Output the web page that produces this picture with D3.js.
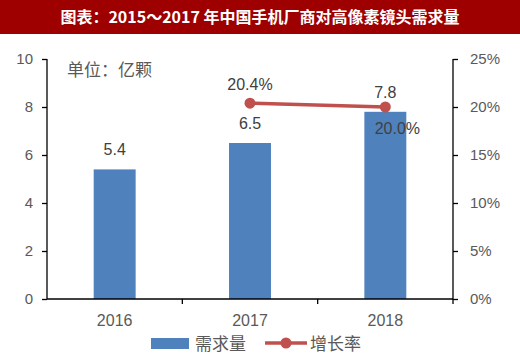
<!DOCTYPE html>
<html><head><meta charset="utf-8">
<script src="https://cdn.jsdelivr.net/npm/d3@7"></script>
<style>body{margin:0;background:#fff}svg{display:block}</style>
</head><body>
<svg id="c" width="520" height="364"></svg>
<script>
const categories = ["2016", "2017", "2018"];
const demand = [5.4, 6.5, 7.8];
const growth = [null, 0.204, 0.200];
const growthLabels = [null, "20.4%", "20.0%"];
const leftTicks = [0, 2, 4, 6, 8, 10];
const rightTicks = [0, 0.05, 0.10, 0.15, 0.20, 0.25];
const title = "图表：2015～2017 年中国手机厂商对高像素镜头需求量";
const unitLabel = "单位：亿颗";
const legendNames = ["需求量", "增长率"];

const svg = d3.select("#c");
const font = "'Liberation Sans', Arial, sans-serif";
const cjk = "'Noto Sans CJK SC', sans-serif";
const gray = "#595959";
const barColor = "#4F81BD", lineColor = "#C0504D";

svg.append("rect").attr("x",0).attr("y",0).attr("width",520).attr("height",34).attr("fill","#9E0000");
svg.append("text").attr("x",260).attr("y",23).attr("text-anchor","middle")
  .attr("fill","#fff").attr("font-weight","bold").attr("font-size",16).attr("font-family",cjk).text(title);

const L = 47, R = 453, T = 59, B = 299;
const x = d3.scaleBand().domain(categories).range([L, R]).padding(0);
const y = d3.scaleLinear().domain([0, 10]).range([B, T]);
const y2 = d3.scaleLinear().domain([0, 0.25]).range([B, T]);

// left axis
const la = svg.append("g").attr("transform",`translate(${L},0)`)
  .call(d3.axisLeft(y).tickValues(leftTicks).tickSize(5).tickPadding(9).tickFormat(d3.format("d")));
la.selectAll("path,line").attr("stroke","#000").attr("stroke-width",1.3);
la.select(".domain").attr("d",`M0,${T}V${B}`);
la.selectAll("text").attr("fill",gray).attr("font-size",15).attr("font-family",font);

const ra = svg.append("g").attr("transform",`translate(${R},0)`)
  .call(d3.axisRight(y2).tickValues(rightTicks).tickSize(5).tickPadding(12).tickFormat(d3.format(".0%")));
ra.selectAll("path,line").attr("stroke","#000").attr("stroke-width",1.3);
ra.select(".domain").attr("d",`M0,${T}V${B}`);
ra.selectAll("text").attr("fill",gray).attr("font-size",15).attr("font-family",font);

// bars
const bw = x.bandwidth() * 0.31;
svg.selectAll("rect.bar").data(categories).enter().append("rect").attr("class","bar")
  .attr("x", d => x(d) + x.bandwidth()/2 - bw/2)
  .attr("y", (d,i) => y(demand[i]))
  .attr("width", bw)
  .attr("height", (d,i) => B - y(demand[i]))
  .attr("fill", barColor);

// bottom axis
const ba = svg.append("g").attr("transform",`translate(0,${B})`)
  .call(d3.axisBottom(x).tickSize(0).tickPadding(16));
ba.select(".domain").remove();
ba.selectAll("text").attr("fill",gray).attr("font-size",16).attr("font-family",font);
svg.append("line").attr("x1",L).attr("x2",R).attr("y1",B).attr("y2",B).attr("stroke","#000").attr("stroke-width",1.6);
svg.selectAll("line.bt").data(categories).enter().append("line").attr("class","bt")
  .attr("x1", d => x(d) + x.bandwidth()).attr("x2", d => x(d) + x.bandwidth())
  .attr("y1", B).attr("y2", B + 5).attr("stroke","#000").attr("stroke-width",1.3);

// bar labels
svg.selectAll("text.bl").data(categories).enter().append("text").attr("class","bl")
  .attr("x", d => x(d) + x.bandwidth()/2)
  .attr("y", (d,i) => y(demand[i]) - 14)
  .attr("text-anchor","middle").attr("fill","#404040").attr("font-size",16).attr("font-family",font)
  .text((d,i) => demand[i].toFixed(1));

// line
const pts = categories.map((c,i)=>({c, v: growth[i], lab: growthLabels[i]})).filter(d => d.v != null);
svg.append("path").datum(pts)
  .attr("d", d3.line().x(d => x(d.c) + x.bandwidth()/2).y(d => y2(d.v)))
  .attr("fill","none").attr("stroke",lineColor).attr("stroke-width",3.5);
svg.selectAll("circle.pt").data(pts).enter().append("circle").attr("class","pt")
  .attr("cx", d => x(d.c) + x.bandwidth()/2).attr("cy", d => y2(d.v)).attr("r",5.5).attr("fill",lineColor);
svg.selectAll("text.pl").data(pts).enter().append("text").attr("class","pl")
  .attr("x", (d,i) => x(d.c) + x.bandwidth()/2 + (i === 0 ? 0 : 12))
  .attr("y", (d,i) => y2(d.v) + (i === 0 ? -13 : 27))
  .attr("text-anchor","middle").attr("fill","#404040").attr("font-size",16).attr("font-family",font)
  .text(d => d.lab);

// unit label
svg.append("text").attr("x",67).attr("y",76).attr("fill",gray).attr("font-size",17).attr("font-family",cjk).text(unitLabel);

// legend
svg.append("rect").attr("x",151).attr("y",338).attr("width",38).attr("height",11).attr("fill",barColor);
svg.append("text").attr("x",195).attr("y",350).attr("fill",gray).attr("font-size",17).attr("font-family",cjk).text(legendNames[0]);
svg.append("line").attr("x1",265).attr("x2",307).attr("y1",343).attr("y2",343).attr("stroke",lineColor).attr("stroke-width",3.5);
svg.append("circle").attr("cx",286).attr("cy",343).attr("r",5.5).attr("fill",lineColor);
svg.append("text").attr("x",310).attr("y",350).attr("fill",gray).attr("font-size",17).attr("font-family",cjk).text(legendNames[1]);
</script>
</body></html>
